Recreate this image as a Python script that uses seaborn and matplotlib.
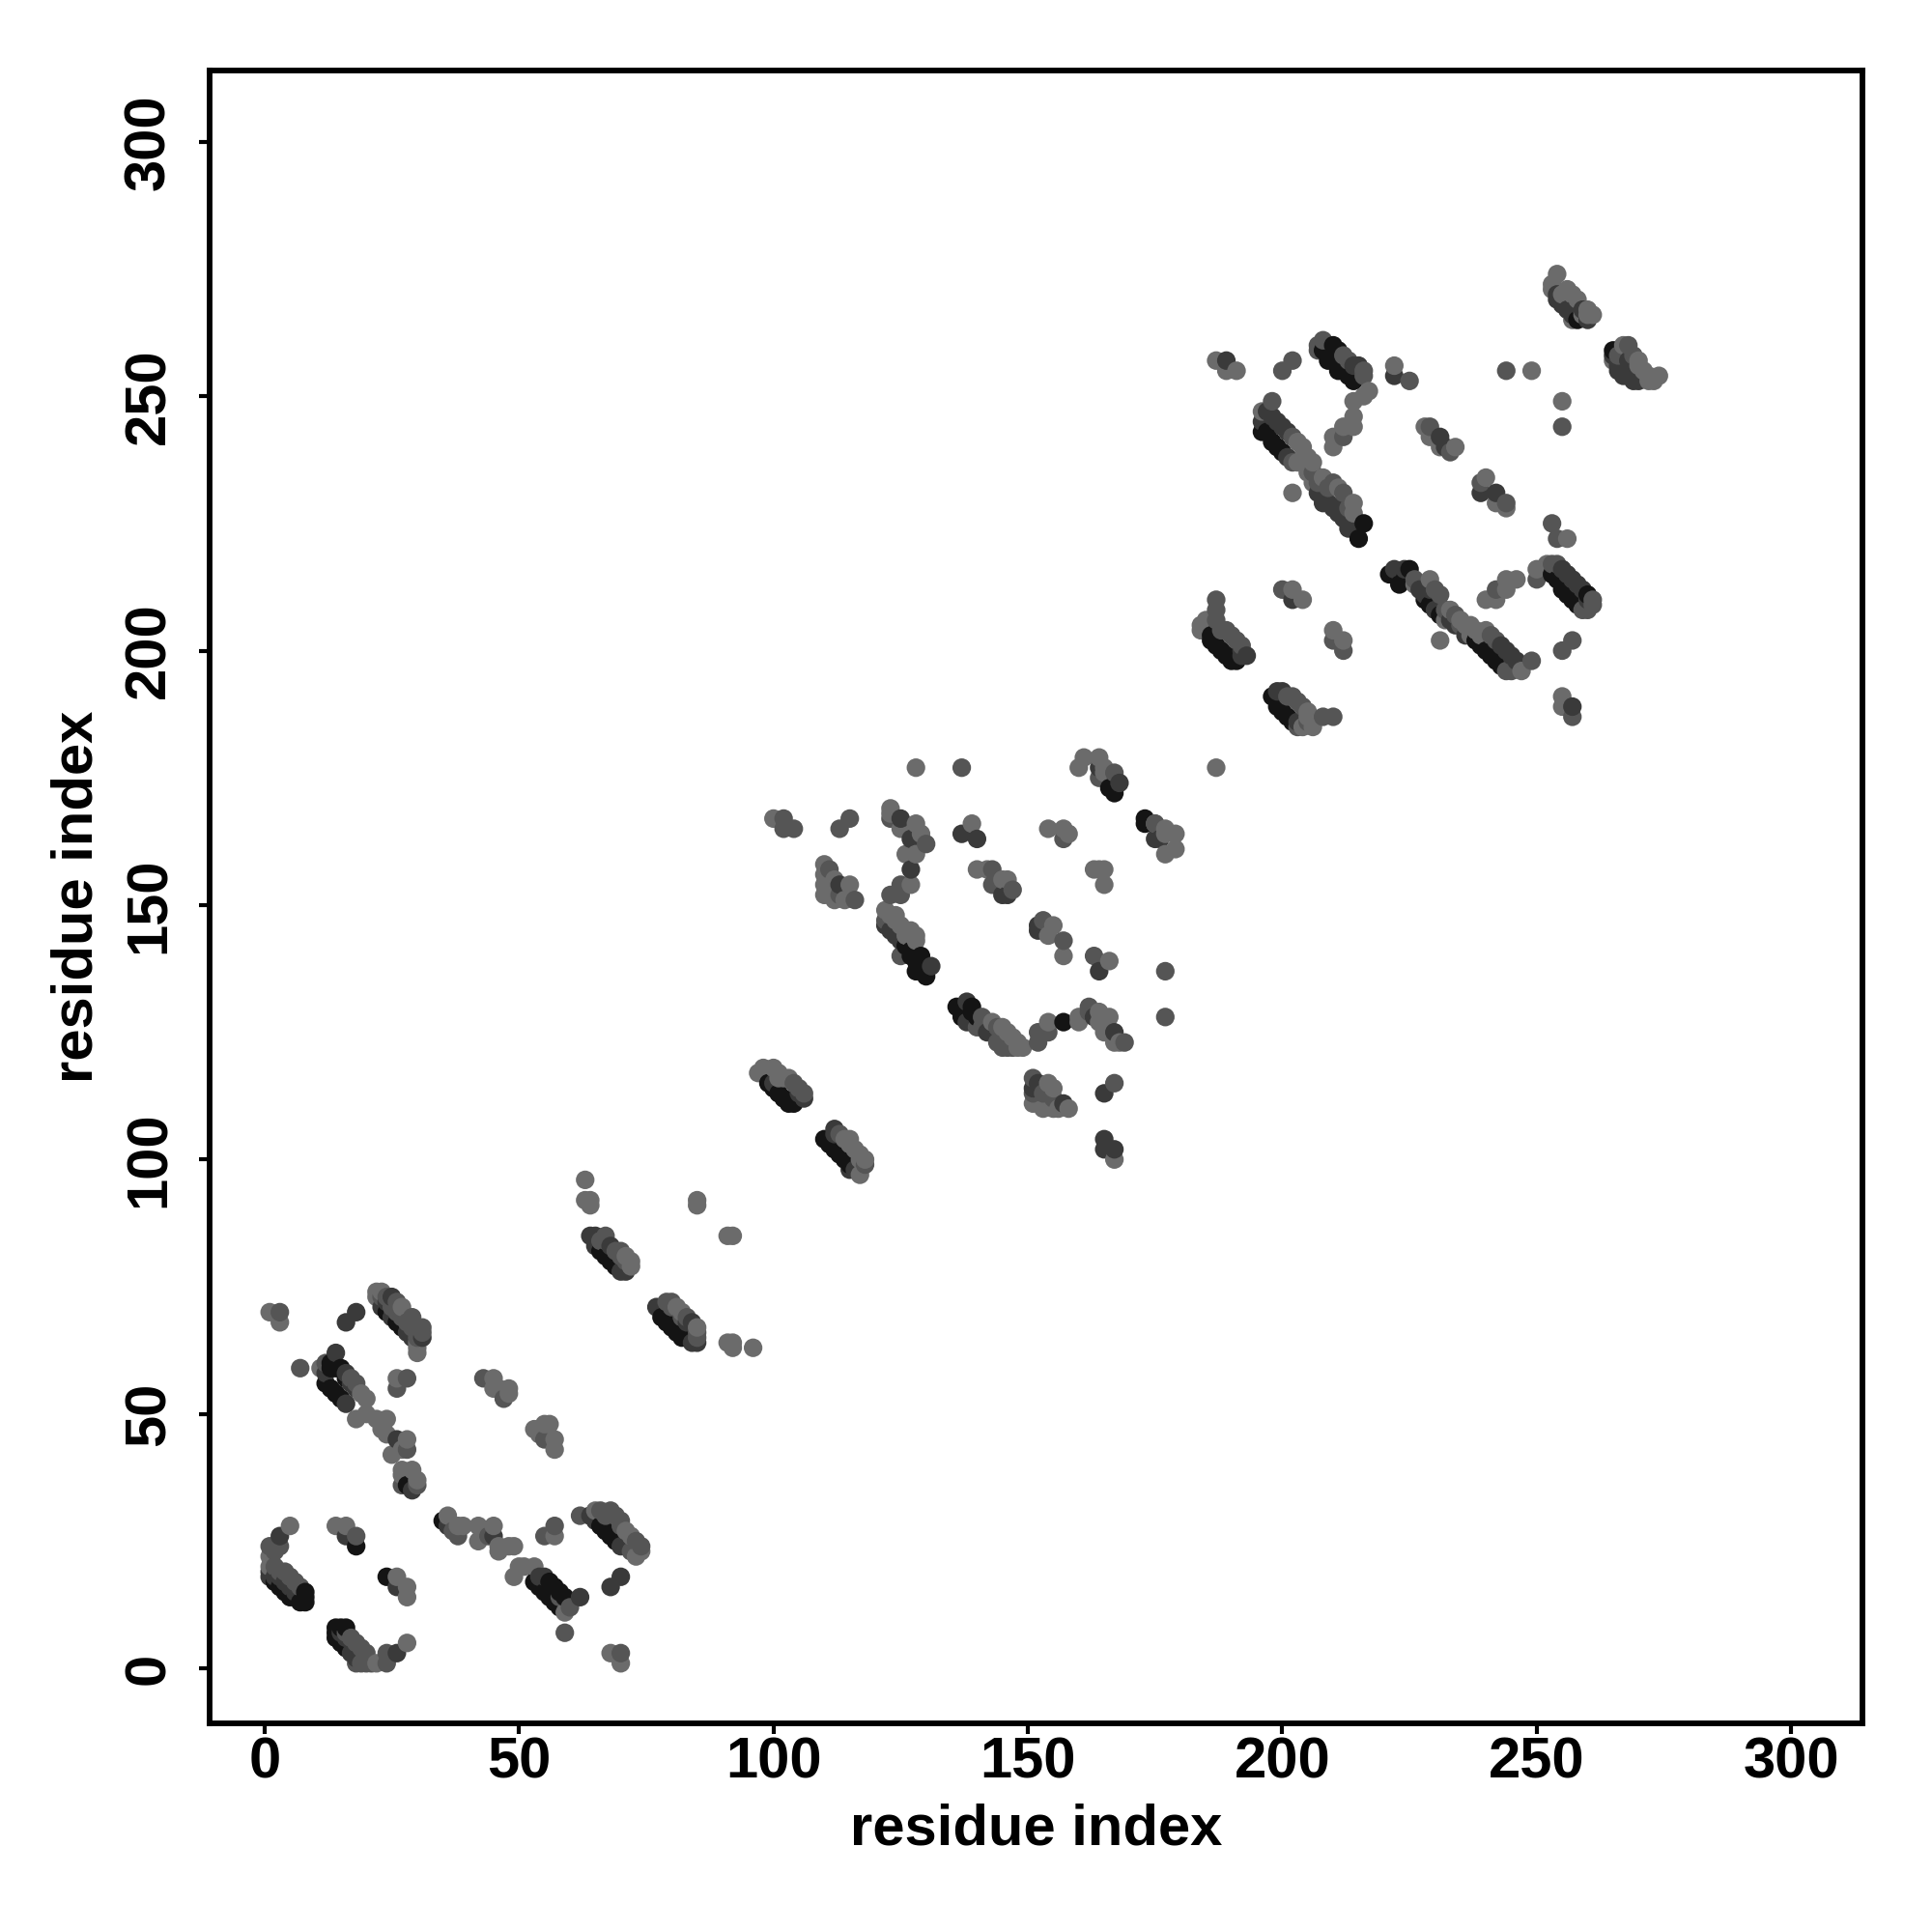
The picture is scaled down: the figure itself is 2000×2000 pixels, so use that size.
import pandas as pd
import matplotlib
matplotlib.use("Agg")
import matplotlib.pyplot as plt
import seaborn as sns

# contacts as (residue i, residue j), one list per grey level
light = [
    (1,22),(1,20),(5,28),(14,28),(16,28),(26,18),(28,16),(28,14),(22,1),(28,5),
    (1,70),(3,68),(22,74),(23,74),(22,73),(27,71),(30,64),(30,63),(30,62),(11,59),(20,53),(19,54),
    (18,49),(20,50),(22,49),(24,49),(23,47),(24,46),(28,45),(25,42),(27,43),(27,39),(29,39),(27,38),(30,37),(26,57),
    (45,57),(45,55),(48,55),(48,54),(46,55),(53,47),(55,48),(56,48),(54,46),(57,45),(57,43),
    (36,30),(38,28),(39,28),(42,25),(42,28),(45,28),(46,24),(49,24),(48,24),(46,23),(50,20),(49,18),(53,20),(51,20),(59,11),(57,26),
    (64,30),(65,31),(71,27),(72,26),(74,23),(73,22),(68,3),(70,1),
    (63,96),(63,92),(64,92),(64,91),(85,92),(85,91),(91,85),(92,85),(91,64),(92,64),(92,63),(96,63),(72,80),(72,79),(71,81),(81,71),(82,70),(85,67),
    (97,117),(98,118),(100,118),(101,116),(103,116),(101,117),(102,116),(114,104),(115,104),(116,102),(115,103),(117,101),(117,100),(117,97),(118,100),
    (128,177),(100,167),(123,169),(123,168),(125,165),(128,166),(129,164),(126,160),(128,160),(127,154),(139,166),
    (110,158),(110,156),(110,154),(110,152),(112,155),(115,154),(114,151),(112,151),
    (122,149),(123,148),(124,148),(124,147),(125,146),(126,144),(127,145),(128,144),(128,143),
    (140,157),(142,157),(146,155),(145,155),(154,165),(157,165),(158,164),(155,146),(154,144),(157,140),(166,139),
    (164,157),(163,157),(165,157),(165,154),
    (160,177),(161,179),(164,179),(165,177),(165,176),(175,166),(177,165),(179,164),(177,160),(179,161),(177,164),
    (143,127),(145,126),(146,125),(147,124),(148,123),(148,122),(149,122),(154,127),(160,128),(160,127),(164,129),(166,128),(165,125),(167,123),(168,123),(164,127),
    (154,115),(151,111),(153,110),(156,110),(158,110),(155,110),(155,114),(167,100),
    (202,231),(185,206),(184,205),(184,204),(202,212),(204,210),(210,204),(212,202),(187,177),
    (205,187),(205,188),(206,185),(204,185),(226,213),(229,214),(233,208),(232,206),(235,206),(236,205),(237,205),(240,204),(237,203),(238,204),(239,203),(247,196),(231,202),
    (240,210),(242,210),(244,212),(244,214),(246,214),(250,216),(252,217),(255,191),(255,189),(256,222),
    (214,229),(214,227),(187,257),(189,255),(191,255),(217,251),(216,250),(214,249),(214,246),(212,244),(214,244),(210,242),(210,240),
    (196,247),(203,241),(204,240),(205,238),(205,235),(203,237),(206,237),(206,233),(208,234),(211,232),(222,256),(228,244),(229,242),(231,240),(234,240),
    (240,234),(242,229),(244,228),(249,255),(255,249),
    (254,274),(253,272),(253,271),(255,270),(256,271),(257,270),(258,269),(259,266),(260,267),(261,266),(260,266),(257,265),(267,260),(265,257),(270,257),(270,256),(271,255),(272,254),(272,253),(274,254),(273,253),
]
mid = [
    (1,24),(3,24),(2,23),(2,20),(3,19),(4,19),(5,18),(6,17),(7,16),(18,26),(19,1),(16,7),(17,6),(18,5),(19,4),(20,3),(20,2),(21,1),(20,1),(18,1),(24,1),(24,3),
    (3,70),(23,73),(24,73),(25,71),(26,72),(26,70),(27,69),(28,68),(29,67),(29,69),(31,67),(30,67),(31,66),(30,66),(30,65),(7,59),(12,60),(17,57),(18,56),(28,43),(27,36),(30,36),(28,57),(26,55),(43,57),(47,53),(55,45),
    (37,27),(38,26),(44,26),(58,14),(60,12),(59,7),(55,26),(57,28),(62,30),(66,31),(67,30),(68,31),(69,30),(70,29),(70,28),(73,25),(74,24),(72,23),(70,3),
    (66,84),(67,84),(67,85),(69,82),(70,81),(70,82),(71,80),(79,72),(80,72),(80,71),(82,69),(83,69),(85,66),(85,65),(104,115),(106,113),(105,114),(113,105),(118,99),
    (137,177),(102,167),(102,165),(104,165),(113,165),(115,167),(123,167),(130,162),(125,154),(125,152),(123,152),
    (111,157),(116,151),(113,152),(122,147),(125,140),(143,157),(143,154),(147,153),(157,163),
    (153,147),(157,143),(163,140),(177,137),(177,128),(167,176),(164,175),(175,166),
    (140,126),(141,126),(144,123),(144,126),(145,124),(146,123),(145,122),(146,122),(147,122),(152,125),(152,123),(154,125),(162,130),(162,129),(169,123),(141,128),
    (151,116),(153,113),(151,113),(155,112),(167,115),
    (187,210),(187,208),(187,206),(188,204),(189,204),(190,203),(191,202),(192,201),(200,212),(210,202),(212,200),
    (203,190),(202,191),(204,189),(203,185),(208,187),(210,187),(201,191),(205,186),(226,214),(230,212),(231,211),(232,208),(234,207),(235,205),(241,203),(242,202),(244,196),(245,196),(249,198),
    (242,212),(250,214),(253,217),(254,217),(261,210),(261,209),(259,208),(260,208),(257,202),(255,200),(257,187),(253,225),(254,222),
    (212,231),(200,255),(202,257),(208,261),(207,259),(207,260),(212,258),(213,257),(216,255),(216,254),(212,242),(198,249),(202,242),(202,237),(206,235),(210,233),(209,232),(207,233),(213,228),
    (225,253),(229,244),(233,239),(239,233),(244,229),(255,244),(244,255),(268,260),(266,258),(267,258),(269,258),
]
dark = [
    (1,19),(1,18),(2,18),(3,18),(4,17),(5,16),(6,15),(3,26),(16,26),(26,16),(17,3),(18,2),(15,7),(16,6),(26,3),
    (16,68),(18,70),(25,73),(23,71),(25,69),(28,66),(29,65),(31,65),(24,72),(14,62),(12,58),(16,58),(17,56),(18,55),(16,52),(26,45),(29,35),
    (36,28),(45,26),(54,18),(55,18),(62,14),(64,30),(65,29),(70,24),(71,24),(70,18),(68,16),
    (64,85),(65,85),(68,83),(65,83),(71,78),(70,78),(77,71),(83,68),(84,68),(84,64),(85,64),
    (105,113),(106,112),(100,115),(112,106),(112,105),(116,98),(115,98),
    (125,167),(127,163),(127,157),(137,164),(140,163),(122,146),(123,145),(124,144),(125,143),(131,138),
    (113,154),(145,152),(146,152),(152,146),(152,145),(164,137),(168,174),(164,177),(175,163),(176,163),
    (138,131),(138,127),(139,127),(142,125),(143,125),(143,126),(163,128),(167,125),
    (151,114),(152,115),(157,111),(165,113),(165,104),(165,102),(167,102),
    (192,200),(192,199),(193,199),(202,210),(199,192),(200,192),(203,186),(222,216),(224,216),(227,212),(228,211),(229,212),(230,208),(233,206),(234,205),(236,203),(243,201),(244,200),(245,199),(246,198),
    (255,216),(256,215),(257,214),(258,213),(259,212),(260,210),(257,189),(189,257),(213,224),(208,229),(209,229),(210,228),(211,227),(212,226),(212,229),(214,225),(207,231),(214,256),(215,256),(222,254),
    (197,247),(198,246),(199,245),(196,245),(200,244),(201,243),(201,238),(231,242),(232,240),(239,231),(242,231),(258,268),(255,268),(254,270),(254,269),(256,267),(259,267),(257,266),(260,265),
    (266,255),(267,254),(268,254),(269,253),(270,253),(266,256),(265,258),(268,257),
]
black = [
    (2,17),(3,16),(4,15),(5,14),(6,14),(7,13),(8,14),(8,15),(8,13),(18,24),(24,18),(14,7),(14,8),(15,8),(16,8),(14,6),(15,5),(16,4),
    (24,70),(26,68),(27,67),(13,59),(13,60),(14,59),(15,59),(16,57),(12,56),(13,55),(14,54),(15,53),(28,36),
    (35,29),(53,17),(54,16),(55,15),(56,14),(56,17),(57,16),(58,15),(59,14),(57,13),(58,12),(66,28),(67,27),(68,26),(69,25),
    (67,81),(68,80),(69,79),(66,82),(78,69),(79,68),(80,67),(81,66),(82,65),(83,65),(99,115),(100,114),(101,113),(102,112),(104,111),(103,111),(110,104),(111,103),(112,102),(113,101),(114,100),(115,99),
    (126,142),(127,141),(127,140),(128,139),(129,138),(129,140),(130,136),(128,137),(166,173),(167,172),(173,167),(173,166),
    (136,130),(137,128),(139,130),(139,129),(140,128),(137,129),(157,127),
    (186,203),(186,202),(187,201),(188,200),(189,199),(190,199),(191,198),(190,198),(198,191),(199,190),(199,189),(200,188),(201,187),(202,186),
    (221,215),(224,214),(225,216),(223,213),(228,210),(229,209),(231,207),(238,202),(239,201),(240,200),(241,199),(242,198),(243,197),
    (253,215),(254,214),(256,211),(258,209),(260,211),(255,212),(257,210),(210,260),(211,259),(208,259),(209,257),(210,257),(211,255),(212,255),(213,254),(214,253),
    (216,225),(215,222),(196,243),(197,243),(198,241),(199,240),(200,239),(258,265),(265,259),
]
tick_values = [0, 50, 100, 150, 200, 250, 300]

# one table, sorted by i then j so overlaps stack as in the original
rows = []
for shade, pairs in [("light", light), ("mid", mid), ("dark", dark), ("black", black)]:
    for i, j in pairs:
        rows.append({"i": i, "j": j, "shade": shade})
contacts = pd.DataFrame(rows).sort_values(["i", "j"], kind="stable")

sns.set_style("white")
plt.rcParams["font.family"] = ["Liberation Sans", "DejaVu Sans"]
plt.rcParams["font.weight"] = "bold"

fig = plt.figure(figsize=(10, 10), dpi=200)
ax = fig.add_axes([217 / 2000, 1 - 1784 / 2000, 1711 / 2000, 1711 / 2000])

palette = {"light": "#6b6b6b", "mid": "#555555", "dark": "#3a3a3a", "black": "#141414"}
sns.scatterplot(data=contacts, x="i", y="j", hue="shade", palette=palette, s=48,
                linewidth=0, legend=False, ax=ax)

ax.set_xlim(-10.8, 314)
ax.set_ylim(-10.8, 314)
ax.set_xticks(tick_values)
ax.set_yticks(tick_values)
ax.tick_params(axis="both", length=4, width=1.5, labelsize=21.5, left=True, bottom=True,
               color="black", labelcolor="black")
ax.tick_params(axis="x", pad=1)
ax.tick_params(axis="y", pad=8.5)
plt.setp(ax.get_yticklabels(), rotation=90, va="center")
ax.set_xlabel("residue index", fontsize=21.5, fontweight="bold", labelpad=5, color="black")
ax.set_ylabel("residue index", fontsize=21.5, fontweight="bold", labelpad=7, color="black")
for spine in ax.spines.values():
    spine.set_linewidth(2.1)
    spine.set_color("black")

fig.savefig("out.png", dpi=200)
plt.close()
